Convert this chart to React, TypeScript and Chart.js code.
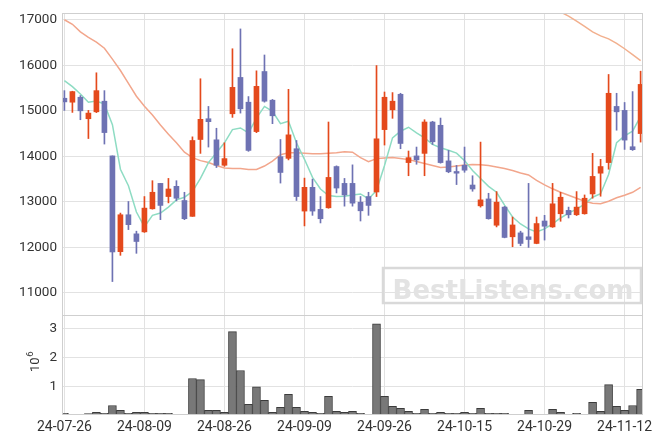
import React, { useEffect, useRef } from 'react';
import { Chart, registerables } from 'chart.js';

Chart.register(...registerables);

// ---------- data ----------
const dates = [
  '24-07-26', '24-07-29', '24-07-30', '24-07-31', '24-08-01', '24-08-02', '24-08-05', '24-08-06', '24-08-07', '24-08-08',
  '24-08-09', '24-08-12', '24-08-13', '24-08-14', '24-08-16', '24-08-19', '24-08-20', '24-08-21', '24-08-22', '24-08-23',
  '24-08-26', '24-08-27', '24-08-28', '24-08-29', '24-08-30', '24-09-02', '24-09-03', '24-09-04', '24-09-05', '24-09-06',
  '24-09-09', '24-09-10', '24-09-11', '24-09-12', '24-09-13', '24-09-19', '24-09-20', '24-09-23', '24-09-24', '24-09-25',
  '24-09-26', '24-09-27', '24-09-30', '24-10-02', '24-10-04', '24-10-07', '24-10-08', '24-10-10', '24-10-11', '24-10-14',
  '24-10-15', '24-10-16', '24-10-17', '24-10-18', '24-10-21', '24-10-22', '24-10-23', '24-10-24', '24-10-25', '24-10-28',
  '24-10-29', '24-10-30', '24-10-31', '24-11-01', '24-11-04', '24-11-05', '24-11-06', '24-11-07', '24-11-08', '24-11-11',
  '24-11-12', '24-11-13', '24-11-14',
];

const opens = [
  15276, 15189, 15298, 14826, 14978, 15211, 14010, 11906, 12717, 12298,
  12341, 12848, 13406, 13117, 13341, 13030, 12682, 14370, 14826, 14363,
  13804, 14935, 15733, 15189, 14544, 15863, 15233, 13993, 13956, 14167,
  12798, 13320, 12835, 12870, 13776, 13406, 13406, 12993, 13117, 13217,
  14587, 15022, 15363, 13863, 14009, 14065, 14754, 14682, 13900, 13667,
  13804, 13370, 12913, 13065, 12487, 12885, 12233, 12319, 12233, 12087,
  12580, 12450, 12739, 12813, 12717, 12739, 13174, 13630, 13863, 15096,
  15009, 14211, 14500,
];
const highs = [
  15443, 15430, 15335, 15009, 15835, 15443, 14010, 12754, 13008, 12356,
  13117, 13465, 13406, 13515, 13465, 13211, 14428, 15704, 15096, 14617,
  14298, 16363, 16798, 15313, 15878, 16226, 15250, 14370, 15472, 14348,
  13522, 13500, 13117, 14754, 13791, 13515, 13813, 13117, 13211, 15994,
  15413, 15400, 15385, 14117, 14204, 14804, 14770, 14841, 14130, 13800,
  14204, 13574, 14313, 13189, 13226, 12900, 12667, 12356, 13406, 12667,
  12704, 13406, 13211, 12885, 13226, 13152, 14065, 13935, 15798, 15385,
  15183, 15422, 15870,
];
const lows = [
  15009, 14965, 14804, 14391, 14960, 14270, 11250, 11826, 12391, 11870,
  12330, 12840, 12610, 12978, 13022, 12609, 12682, 14065, 14204, 13754,
  13780, 14856, 14950, 14110, 14520, 15190, 14717, 13413, 13922, 13030,
  12472, 12704, 12537, 12860, 13196, 12906, 12906, 12580, 12704, 13117,
  14248, 14835, 14167, 13574, 13826, 13574, 14261, 13850, 13640, 13380,
  13650, 13233, 12885, 12620, 12450, 12210, 12015, 12037, 12000, 12080,
  12161, 12440, 12574, 12646, 12700, 12730, 13080, 13124, 13717, 14574,
  14152, 14130, 14313,
];
const closes = [
  15196, 15422, 15000, 14950, 15443, 14522, 11900, 12717, 12500, 12130,
  12863, 13211, 12922, 13283, 13080, 12630, 14348, 14813, 14761, 13804,
  13950, 15515, 15044, 14130, 15537, 15211, 14891, 13646, 14472, 13117,
  13320, 12798, 12630, 13537, 13304, 13152, 12972, 12804, 12922, 14385,
  15298, 15211, 14283, 13971, 13922, 14754, 14320, 13863, 13661, 13630,
  13696, 13283, 13044, 12630, 12993, 12219, 12493, 12087, 12174, 12524,
  12465, 12957, 13102, 12717, 12885, 13080, 13559, 13776, 15385, 14978,
  14357, 14146, 15580,
];
// volume in millions of shares
const volumes = [
  0.06, 0.02, 0.02, 0.05, 0.09, 0.06, 0.33, 0.16, 0.06, 0.09,
  0.09, 0.06, 0.06, 0.06, 0.02, 0.02, 1.27, 1.23, 0.16, 0.16,
  0.09, 2.90, 1.55, 0.37, 0.98, 0.51, 0.09, 0.27, 0.72, 0.27,
  0.13, 0.09, 0.06, 0.65, 0.13, 0.09, 0.13, 0.06, 0.02, 3.17,
  0.65, 0.30, 0.23, 0.13, 0.06, 0.20, 0.06, 0.09, 0.06, 0.06,
  0.09, 0.06, 0.23, 0.06, 0.06, 0.06, 0.02, 0.02, 0.16, 0.02,
  0.02, 0.20, 0.09, 0.02, 0.06, 0.02, 0.44, 0.13, 1.06, 0.30,
  0.16, 0.33, 0.89,
];
const ma5 = [
  15663, 15530, 15370, 15190, 15217, 15146, 14696, 13717, 13356, 12776,
  12450, 12704, 12754, 12885, 13044, 13102, 13226, 13515, 13863, 14080,
  14298, 14587, 14624, 14515, 14841, 15096, 14987, 14717, 14770, 14298,
  13935, 13537, 13283, 13139, 13117, 13124, 13152, 13174, 13065, 13248,
  13800, 14406, 14552, 14639, 14515, 14406, 14261, 14189, 14135, 14070,
  13906, 13689, 13515, 13341, 13211, 12928, 12667, 12515, 12406, 12341,
  12406, 12515, 12646, 12754, 12841, 12950, 13102, 13180, 13602, 14298,
  14450, 14552, 14878,
];
const ma20 = [
  17000, 16900, 16733, 16613, 16509, 16374, 16135, 15885, 15602, 15320,
  15102, 14906, 14689, 14483, 14298, 14091, 13972, 13906, 13863, 13798,
  13744, 13733, 13733, 13711, 13711, 13787, 13896, 14037, 14080, 14080,
  14070, 14059, 14059, 14070, 14080, 14102, 14091, 13972, 13885, 13950,
  13961, 13972, 13950, 13928, 13885, 13841, 13798, 13754, 13765, 13787,
  13809, 13820, 13813, 13798, 13765, 13733, 13689, 13635, 13591, 13472,
  13374, 13287, 13211, 13146, 13080, 13015, 12972, 12961, 13015, 13091,
  13146, 13211, 13320,
];
const ma60 = [
  null, null, null, null, null, null, null, null, null, null,
  null, null, null, null, null, null, null, null, null, null,
  null, null, null, null, null, null, null, null, null, null,
  null, null, null, null, null, null, null, null, null, null,
  null, null, null, null, null, null, null, null, null, null,
  null, null, null, null, null, null, null, null, null, null,
  null, 17270, 17170, 17080, 16972, 16852, 16733, 16646, 16580, 16483,
  16363, 16233, 16102,
];
const priceTicks = [11000, 12000, 13000, 14000, 15000, 16000, 17000];
const volumeTicks = [1000000, 2000000, 3000000];
const dateTickIndex = [0, 10, 20, 30, 40, 50, 60, 70];

// ---------- styles ----------
const UP = '#e4491c';
const DOWN = '#6e72b3';
const GRID = '#e2e2e2';
const FRAME = '#cfcfcf';
const TEXT = '#333333';

const panelFrame = {
  id: 'panelFrame',
  afterDatasetsDraw(chart: any) {
    const { ctx, chartArea } = chart;
    const y = chart.scales.y;
    const yv = chart.scales.yv;
    ctx.save();
    ctx.strokeStyle = FRAME;
    ctx.lineWidth = 1;
    const l = Math.round(chartArea.left) + 0.5;
    const r = Math.round(chartArea.right) - 0.5;
    ctx.strokeRect(l, Math.round(y.top) + 0.5, r - l, Math.round(y.bottom) - Math.round(y.top));
    ctx.strokeRect(l, Math.round(yv.top) + 0.5, r - l, Math.round(yv.bottom) - Math.round(yv.top) - 1);
    ctx.restore();
  },
};

const watermark = {
  id: 'watermark',
  beforeDatasetsDraw(chart: any) {
    const { ctx, chartArea } = chart;
    const y = chart.scales.y;
    const w = 258;
    const h = 35;
    const right = chartArea.right - 2;
    const bottom = y.bottom - 12;
    ctx.save();
    ctx.strokeStyle = '#d9d9d9';
    ctx.lineWidth = 2.5;
    ctx.strokeRect(right - w, bottom - h, w, h);
    const text = 'BestListens.com';
    ctx.font = 'bold 30px "DejaVu Sans"';
    const tw = ctx.measureText(text).width;
    const size = 30 * 241 / tw;
    ctx.font = `bold ${size}px "DejaVu Sans"`;
    ctx.fillStyle = '#e3e3e3';
    ctx.textAlign = 'center';
    ctx.textBaseline = 'alphabetic';
    ctx.fillText(text, right - w / 2 + 1, bottom - 4.5);
    ctx.restore();
  },
};

// "10" with a raised "6", drawn rotated beside the volume axis
const volumeExponent = {
  id: 'volumeExponent',
  afterDraw(chart: any) {
    const { ctx } = chart;
    const yv = chart.scales.yv;
    const cy = (yv.top + yv.bottom) / 2 - 3;
    ctx.save();
    ctx.translate(34, cy);
    ctx.rotate(-Math.PI / 2);
    ctx.fillStyle = TEXT;
    ctx.textBaseline = 'middle';
    ctx.font = '13px Roboto';
    const w10 = ctx.measureText('10').width;
    ctx.font = '9.5px Roboto';
    const w6 = ctx.measureText('6').width;
    const start = -(w10 + w6) / 2;
    ctx.font = '13px Roboto';
    ctx.textAlign = 'left';
    ctx.fillText('10', start, 1.5);
    ctx.font = '9.5px Roboto';
    ctx.fillText('6', start + w10 + 0.5, -3.5);
    ctx.restore();
  },
};

export default function App() {
  const ref = useRef<HTMLCanvasElement>(null);

  useEffect(() => {
    const canvas = ref.current;
    if (!canvas) return;
    Chart.defaults.font.family = 'Roboto';
    const idx = dates.map((_, i) => i);
    const colorFor = (i: number) => (closes[i] >= opens[i] ? UP : DOWN);

    const chart = new Chart(canvas, {
      type: 'bar',
      data: {
        datasets: [
          {
            type: 'bar',
            label: 'body',
            data: idx.map((i) => ({ x: i, y: [opens[i], closes[i]] })) as any,
            backgroundColor: idx.map(colorFor),
            barThickness: 5,
            grouped: false,
            borderWidth: 0,
            yAxisID: 'y',
            order: 1,
          } as any,
          {
            type: 'bar',
            label: 'wick',
            data: idx.map((i) => ({ x: i, y: [lows[i], highs[i]] })) as any,
            backgroundColor: idx.map(colorFor),
            barThickness: 1,
            grouped: false,
            borderWidth: 0,
            yAxisID: 'y',
            order: 2,
          } as any,
          {
            type: 'line',
            label: 'MA5',
            data: idx.map((i) => ({ x: i, y: ma5[i] })),
            borderColor: '#8edcc3',
            borderWidth: 1.5,
            pointRadius: 0,
            yAxisID: 'y',
            order: 3,
          } as any,
          {
            type: 'line',
            label: 'MA20',
            data: idx.map((i) => ({ x: i, y: ma20[i] })),
            borderColor: '#f2a68c',
            borderWidth: 1.5,
            pointRadius: 0,
            yAxisID: 'y',
            order: 3,
          } as any,
          {
            type: 'line',
            label: 'MA60',
            data: idx.map((i) => ({ x: i, y: ma60[i] })),
            borderColor: '#f2b08e',
            borderWidth: 1.5,
            pointRadius: 0,
            spanGaps: false,
            yAxisID: 'y',
            order: 3,
          } as any,
          {
            type: 'bar',
            label: 'volume',
            data: idx.map((i) => ({ x: i, y: volumes[i] * 1000000 })),
            backgroundColor: '#787878',
            borderColor: '#3c3c3c',
            borderWidth: 1,
            borderSkipped: false,
            barThickness: 8,
            grouped: false,
            yAxisID: 'yv',
            order: 4,
          } as any,
        ],
      },
      options: {
        animation: false,
        responsive: false,
        devicePixelRatio: 1,
        layout: { padding: { top: 9, right: 20, left: 0, bottom: 0 } },
        plugins: {
          legend: { display: false },
          tooltip: { enabled: false },
        },
        scales: {
          x: {
            type: 'linear',
            min: -0.3,
            max: 72.3,
            offset: false,
            grid: { color: GRID, drawTicks: false, offset: false },
            border: { display: false },
            ticks: {
              color: TEXT,
              font: { size: 14 },
              padding: 4,
              maxRotation: 0,
              autoSkip: false,
              callback: (v: any) => dates[Math.round(Number(v))] ?? '',
            },
            afterBuildTicks: (s: any) => {
              s.ticks = dateTickIndex.map((v) => ({ value: v }));
            },
            afterFit: (s: any) => {
              s.height = 29;
            },
          },
          yv: {
            type: 'linear',
            position: 'left',
            stack: 'main',
            stackWeight: 101,
            min: 0,
            max: 3480000,
            grid: { color: GRID, drawTicks: false },
            border: { display: false },
            ticks: {
              color: TEXT,
              font: { size: 13.5 },
              padding: 5,
              callback: (v: any) => String(Math.round(Number(v) / 1000000)),
            },
            afterBuildTicks: (s: any) => {
              s.ticks = volumeTicks.map((v) => ({ value: v }));
            },
            afterFit: (s: any) => {
              s.width = 62;
            },
          },
          y: {
            type: 'linear',
            position: 'left',
            stack: 'main',
            stackWeight: 305,
            min: 10515,
            max: 17146,
            grid: { color: GRID, drawTicks: false },
            border: { display: false },
            ticks: {
              color: TEXT,
              font: { size: 13.5 },
              padding: 5,
              callback: (v: any) => String(Math.round(Number(v))),
            },
            afterBuildTicks: (s: any) => {
              s.ticks = priceTicks.map((v) => ({ value: v }));
            },
            afterFit: (s: any) => {
              s.width = 62;
            },
          },
        } as any,
      },
      plugins: [watermark, panelFrame, volumeExponent],
    });
    return () => chart.destroy();
  }, []);

  return (
    <div style={{ position: 'absolute', left: 0, top: 0, width: 663, height: 444, background: '#fff' }}>
      <canvas ref={ref} width={663} height={444} style={{ display: 'block' }} />
    </div>
  );
}
